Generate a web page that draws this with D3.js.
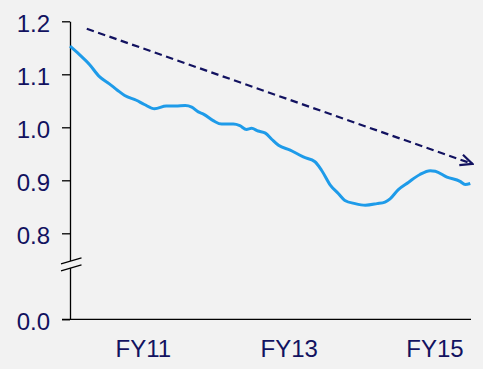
<!DOCTYPE html>
<html>
<head>
<meta charset="utf-8">
<script src="https://cdn.jsdelivr.net/npm/d3@7"></script>
<style>
  html, body { margin: 0; padding: 0; background: #f2f2f2; }
  svg { display: block; }
  text { font-family: "Liberation Sans", Arial, sans-serif; }
</style>
</head>
<body>
<svg id="chart" width="483" height="369"></svg>
<script>
// ---- data ----
const xTickValues = [2011, 2013, 2015];
const xTickLabels = ["FY11", "FY13", "FY15"];
const yTickValues = [0.0, 0.8, 0.9, 1.0, 1.1, 1.2];

const times = [2010.00, 2010.13, 2010.27, 2010.40, 2010.54, 2010.65, 2010.75, 2010.91,
  2011.02, 2011.16, 2011.32, 2011.45, 2011.58, 2011.67, 2011.76, 2011.83, 2011.97,
  2012.08, 2012.24, 2012.33, 2012.42, 2012.49, 2012.58, 2012.68, 2012.77, 2012.86,
  2013.02, 2013.20, 2013.36, 2013.45, 2013.57, 2013.68, 2013.77, 2013.91, 2014.05,
  2014.21, 2014.32, 2014.39, 2014.50, 2014.64, 2014.80, 2014.94, 2015.01, 2015.17,
  2015.35, 2015.42, 2015.49];
const values = [1.153, 1.137, 1.118, 1.096, 1.082, 1.070, 1.060, 1.051,
  1.043, 1.035, 1.040, 1.040, 1.041, 1.038, 1.029, 1.025, 1.012,
  1.006, 1.006, 1.003, 0.996, 0.998, 0.993, 0.989, 0.977, 0.966,
  0.957, 0.944, 0.935, 0.919, 0.891, 0.875, 0.862, 0.856, 0.853,
  0.856, 0.859, 0.865, 0.882, 0.896, 0.911, 0.918, 0.917, 0.906,
  0.898, 0.892, 0.894];

const trendTimes = [2010.23, 2015.52];
const trendValues = [1.186, 0.931];

// ---- chart ----
const svg = d3.select("#chart");

const x = d3.scaleLinear().domain([2010, 2015.5]).range([70, 471]);
// broken axis: 0 .. 0.7 compressed, 0.7 .. 1.2 linear
const y = d3.scaleLinear().domain([0, 0.7, 1.2]).range([319.3, 286.3, 21.3]);

const navy = "#121260";
const fontSize = "24px";

// y axis
const yAxis = d3.axisLeft(y)
  .tickValues(yTickValues)
  .tickFormat(d3.format(".1f"))
  .tickSize(8)
  .tickSizeOuter(0)
  .tickPadding(12);

const gy = svg.append("g").attr("transform", "translate(70,0)").call(yAxis);
gy.select(".domain").attr("stroke", "#000").attr("stroke-width", 1.3);
gy.selectAll(".tick line").attr("stroke", "#000").attr("stroke-width", 1.3);
gy.selectAll(".tick text")
  .attr("fill", navy)
  .attr("font-size", fontSize)
  .attr("dy", "10.5px");

// x axis
const xAxis = d3.axisBottom(x)
  .tickValues(xTickValues)
  .tickFormat((d, i) => xTickLabels[i])
  .tickSize(0)
  .tickSizeOuter(0);
const gx = svg.append("g").attr("transform", "translate(0," + y(0) + ")").call(xAxis);
gx.select(".domain").remove();
gx.selectAll(".tick text")
  .attr("fill", navy)
  .attr("font-size", fontSize)
  .attr("y", 38)
  .attr("dy", 0);
svg.append("line")
  .attr("x1", x(2010) - 8).attr("x2", x(2015.5))
  .attr("y1", y(0)).attr("y2", y(0))
  .attr("stroke", "#000").attr("stroke-width", 1.3);

// axis break mark
const bx = x(2010), by = y(0.8) + 31;
svg.append("path")
  .attr("d", `M${bx - 9},${by - 0.5} L${bx + 11.5},${by - 6.5} L${bx + 11.5},${by + 0.5} L${bx - 9},${by + 6.5} Z`)
  .attr("fill", "#f2f2f2").attr("stroke", "none");
svg.append("path")
  .attr("d", `M${bx - 9},${by - 0.5} L${bx + 11.5},${by - 6.5} M${bx - 9},${by + 6.5} L${bx + 11.5},${by + 0.5}`)
  .attr("fill", "none").attr("stroke", "#000").attr("stroke-width", 1.2);

// arrow marker
svg.append("defs").append("marker")
  .attr("id", "arrow")
  .attr("markerUnits", "userSpaceOnUse")
  .attr("viewBox", "-14 -8 16 16")
  .attr("refX", 0).attr("refY", 0)
  .attr("markerWidth", 16).attr("markerHeight", 16)
  .attr("orient", "auto")
  .append("path")
  .attr("d", "M-12,-5.5 L0,0 L-12,5.5")
  .attr("fill", "none").attr("stroke", navy).attr("stroke-width", 2.2);

// trend line
const trend = trendTimes.map((t, i) => [t, trendValues[i]]);
svg.append("path")
  .datum(trend)
  .attr("d", d3.line().x(d => x(d[0])).y(d => y(d[1])))
  .attr("fill", "none")
  .attr("stroke", navy)
  .attr("stroke-width", 2.2)
  .attr("stroke-dasharray", "7.5,4.5")
  .attr("marker-end", "url(#arrow)");

// main line
const series = times.map((t, i) => [t, values[i]]);
svg.append("path")
  .datum(series)
  .attr("d", d3.line().x(d => x(d[0])).y(d => y(d[1])).curve(d3.curveMonotoneX))
  .attr("fill", "none")
  .attr("stroke", "#1e9be9")
  .attr("stroke-width", 3)
  .attr("stroke-linejoin", "round");
</script>
</body>
</html>
